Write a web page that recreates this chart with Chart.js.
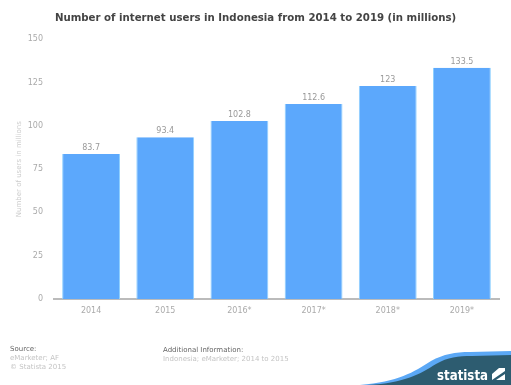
<!DOCTYPE html>
<html>
<head>
<meta charset="utf-8">
<script src="https://cdn.jsdelivr.net/npm/chart.js@4"></script>
<style>
  html, body { margin: 0; padding: 0; background: #fff; }
  #wrap { position: relative; width: 511px; height: 385px; overflow: hidden; font-family: "DejaVu Sans", sans-serif; }
  #chart { position: absolute; left: 0; top: 0; }
  .foot { position: absolute; font-size: 7px; line-height: 9px; color: #c4c4c4; white-space: nowrap; }
  .foot b { font-weight: normal; color: #666; }
  #logo { position: absolute; left: 0; top: 0; }
</style>
</head>
<body>
<div id="wrap">
  <canvas id="chart" width="511" height="385"></canvas>
  <div class="foot" style="left:10px; top:345px;"><b>Source:</b><br>eMarketer; AF<br>© Statista 2015</div>
  <div class="foot" style="left:163px; top:346px;"><b>Additional Information:</b><br>Indonesia; eMarketer; 2014 to 2015</div>
  <svg id="logo" width="511" height="385">
    <path d="M360 385 C398 382 414 372 431 361 C444 354 455 352 470 352 L511 351 L511 385 Z" fill="#5ba8f5"/>
    <path d="M368 385 C405 383 420 374 436 364 C448 357 458 356 472 356 L511 355 L511 385 Z" fill="#2d5c70"/>
    <text x="437" y="380" fill="#fff" font-family="DejaVu Sans" font-weight="bold" font-size="14" textLength="51" lengthAdjust="spacingAndGlyphs">statista</text>
    <rect x="492" y="368" width="13" height="12" fill="#fff"/>
    <path d="M492 380 L505 371 L505 374 L496 380 Z M492 374 L499 368 L492 368 Z" fill="#2d5c70"/>
  </svg>
</div>
<script>
const years = ["2014", "2015", "2016*", "2017*", "2018*", "2019*"];
const users = [83.7, 93.4, 102.8, 112.6, 123, 133.5];
const yTicks = [0, 25, 50, 75, 100, 125, 150];

const valueLabels = {
  id: "valueLabels",
  afterDatasetsDraw(chart) {
    const ctx = chart.ctx;
    const meta = chart.getDatasetMeta(0);
    ctx.save();
    ctx.font = "8px 'DejaVu Sans'";
    ctx.fillStyle = "#999";
    ctx.textAlign = "center";
    ctx.textBaseline = "bottom";
    meta.data.forEach((bar, i) => {
      ctx.fillText(String(users[i]), bar.x, bar.y - 2);
    });
    ctx.restore();
  }
};

new Chart(document.querySelector("#chart").getContext("2d"), {
  type: "bar",
  data: {
    labels: years,
    datasets: [{
      data: users,
      backgroundColor: "#5ca8fc",
      borderColor: "#8fd0ff",
      borderWidth: { left: 1, right: 1, top: 0, bottom: 0 },
      barPercentage: 0.78,
      categoryPercentage: 1,
    }],
  },
  options: {
    responsive: false,
    animation: false,
    layout: { padding: { left: 12, right: 12, top: 0, bottom: 56 } },
    plugins: {
      legend: { display: false },
      tooltip: { enabled: false },
      title: {
        display: true,
        text: "Number of internet users in Indonesia from 2014 to 2019 (in millions)",
        color: "#444",
        font: { family: "'DejaVu Sans'", size: 10.2, weight: "bold" },
        padding: { top: 12, bottom: 15 },
      },
    },
    scales: {
      x: {
        grid: { display: false, drawTicks: false },
        border: { display: true, color: "#bbb", width: 2 },
        ticks: { color: "#aaa", font: { family: "'DejaVu Sans'", size: 8 }, padding: 7 },
        afterFit(s) { s.height = 30; },
      },
      y: {
        min: 0,
        max: 150,
        afterBuildTicks(s) { s.ticks = yTicks.map(v => ({ value: v })); },
        grid: { display: false, drawTicks: false },
        border: { display: false },
        ticks: { color: "#aaa", font: { family: "'DejaVu Sans'", size: 8 }, padding: 11 },
        title: {
          display: true,
          text: "Number of users in millions",
          color: "#ccc",
          font: { family: "'DejaVu Sans'", size: 7 },
          padding: { top: 3, bottom: 0 },
        },
        afterFit(s) { s.width = 42; },
      },
    },
  },
  plugins: [valueLabels],
});
</script>
</body>
</html>
